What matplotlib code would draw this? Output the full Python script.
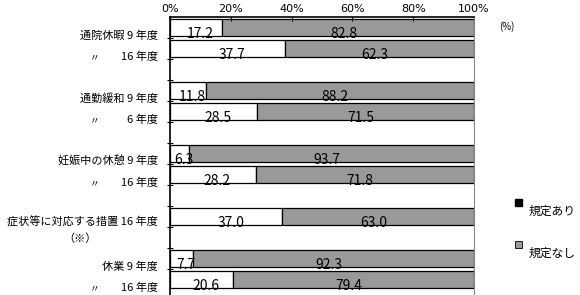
# 母性健康管理の規定の有無（帯グラフ）

import numpy as np
import matplotlib
matplotlib.use('Agg')
import matplotlib.pyplot as plt
from matplotlib.patches import Rectangle

plt.rcParams['font.family'] = ['Noto Sans CJK JP', 'DejaVu Sans']

# データ
row_names = ['通院休暇', '〃', '通勤緩和', '〃', '妊娠中の休憩', '〃',
             '症状等に対応する措置', '休業', '〃']
row_years = ['9 年度', '16 年度', '9 年度', '6 年度', '9 年度', '16 年度',
             '16 年度', '9 年度', '16 年度']
ari = [17.2, 37.7, 11.8, 28.5, 6.3, 28.2, 37.0, 7.7, 20.6]     # 規定あり
nashi = [82.8, 62.3, 88.2, 71.5, 93.7, 71.8, 63.0, 92.3, 79.4]  # 規定なし
slots = [0, 1, 3, 4, 6, 7, 9, 11, 12]   # 空行を含めた並び順
x_ticks = [0, 20, 40, 60, 80, 100]
x_labels = ['0%', '20%', '40%', '60%', '80%', '100%']

W, H = 580, 295
fig = plt.figure(figsize=(W / 100, H / 100), dpi=100)
ax = fig.add_axes([170 / W, 0, 304 / W, 1 - 17 / H])

y = np.array(slots) + 0.5
ax.barh(y, ari, height=0.82, color='white', edgecolor='black', linewidth=0.9)
ax.barh(y, nashi, left=ari, height=0.82, color='#999999', edgecolor='black', linewidth=0.9)

ax.set_xlim(0, 100)
ax.set_ylim(278 / 21, 0)   # 1行 = 21px

# 値ラベル（棒の下端付近に表示されている）
for yy, a, n in zip(y, ari, nashi):
    ax.text(a / 2 + 1.5, yy + 0.33, f'{a:.1f}', ha='center', va='center', fontsize=10)
    ax.text(a + n / 2 - 1.5, yy + 0.33, f'{n:.1f}', ha='center', va='center', fontsize=10)

# 行ラベル
tr = ax.get_yaxis_transform()
for yy, name, yr in zip(y, row_names, row_years):
    if name == '〃':
        ax.text(-75 / 304, yy + 0.4, '〃', ha='center', va='center', fontsize=7, transform=tr)
        ax.text(-12 / 304, yy + 0.4, yr, ha='right', va='center', fontsize=8, transform=tr)
    elif name == '症状等に対応する措置':
        ax.text(-12 / 304, yy + 0.26, name + ' ' + yr, ha='right', va='center', fontsize=8, transform=tr)
        ax.text(-90 / 304, yy + 1.07, '（※）', ha='center', va='center', fontsize=8, transform=tr)
    else:
        ax.text(-12 / 304, yy + 0.38, name + ' ' + yr, ha='right', va='center', fontsize=8, transform=tr)

# 軸
ax.xaxis.tick_top()
ax.set_xticks(x_ticks)
ax.set_xticklabels(x_labels, fontsize=8, family='DejaVu Sans')
ax.tick_params(axis='x', direction='in', length=3, pad=2, width=0.8)
ax.set_yticks(np.arange(1, 13))
ax.set_yticklabels([])
ax.tick_params(axis='y', direction='inout', length=4, width=0.8)
ax.spines['bottom'].set_visible(False)
ax.spines['right'].set_color('#888888')
ax.spines['left'].set_linewidth(1.2)
ax.spines['top'].set_linewidth(1.2)

fig.text(507 / W, 1 - 27 / H, '(%)', ha='center', va='center', fontsize=7)

# 凡例
fig.patches.append(Rectangle((515 / W, 1 - 206 / H), 7 / W, 7 / H, facecolor='black',
                             edgecolor='black', transform=fig.transFigure, figure=fig))
fig.text(529 / W, 1 - 211 / H, '規定あり', ha='left', va='center', fontsize=8.5)
fig.patches.append(Rectangle((515 / W, 1 - 248 / H), 7 / W, 7 / H, facecolor='#999999',
                             edgecolor='black', linewidth=0.6, transform=fig.transFigure, figure=fig))
fig.text(529 / W, 1 - 253 / H, '規定なし', ha='left', va='center', fontsize=8.5)

plt.savefig('out.png', dpi=100)
